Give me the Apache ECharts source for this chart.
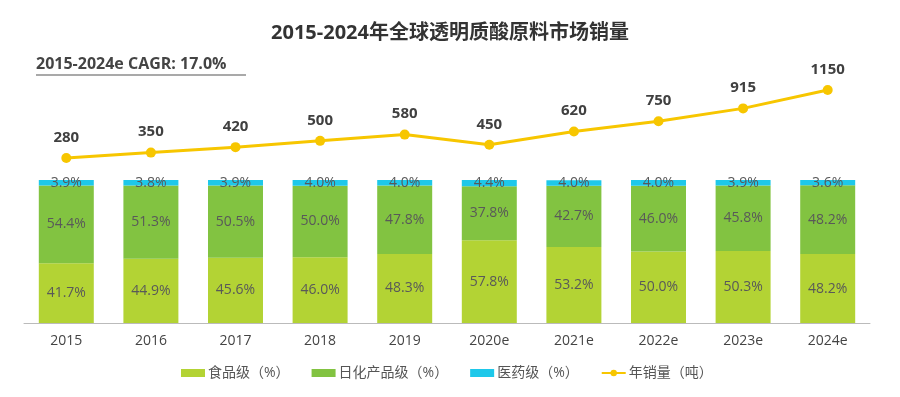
<!DOCTYPE html>
<html><head><meta charset="utf-8">
<script src="https://cdn.jsdelivr.net/npm/echarts@6/dist/echarts.min.js"></script>
<style>html,body{margin:0;padding:0;background:#fff}#c{width:900px;height:397px}</style>
</head><body><div id="c"></div>
<script>
var categories = ['2015','2016','2017','2018','2019','2020e','2021e','2022e','2023e','2024e'];
var foodGrade = [41.7,44.9,45.6,46.0,48.3,57.8,53.2,50.0,50.3,48.2];
var cosmeticGrade = [54.4,51.3,50.5,50.0,47.8,37.8,42.7,46.0,45.8,48.2];
var pharmaGrade = [3.9,3.8,3.9,4.0,4.0,4.4,4.0,4.0,3.9,3.6];
var salesVolume = [280,350,420,500,580,450,620,750,915,1150];

var FONT = "'Open Sans','Noto Sans CJK SC',sans-serif";
var chart = echarts.init(document.getElementById('c'));
function pct(v){return v.toFixed(1)+'%';}
var barLabel = {show:true, position:'inside', color:'#595959', fontSize:14, fontFamily:FONT,
  formatter:function(p){return pct(p.value);}};
chart.setOption({
  animation:false,
  textStyle:{fontFamily:FONT},
  title:{text:'2015-2024年全球透明质酸原料市场销量', left:'center', top:18,
    textStyle:{fontSize:20, fontWeight:'bold', color:'#333', fontFamily:FONT}},
  graphic:[
    {type:'text', left:36, top:56, style:{text:'2015-2024e CAGR: 17.0%', fontSize:16, fontWeight:'bold', fill:'#444', fontFamily:FONT}},
    {type:'line', shape:{x1:36,y1:75,x2:246,y2:75}, style:{stroke:'#555', lineWidth:1.2}}
  ],
  legend:{bottom:12, left:176, itemWidth:24, itemHeight:8, itemGap:22,
    textStyle:{color:'#555', fontSize:14, fontFamily:FONT, padding:[0,0,0,-2]},
    data:[{name:'食品级（%）',icon:'rect'},{name:'日化产品级（%）',icon:'rect'},{name:'医药级（%）',icon:'rect'},{name:'年销量（吨）'}]},
  grid:[
    {left:24, right:30, top:180, bottom:74},
    {left:24, right:30, top:90, bottom:217}
  ],
  xAxis:[
    {type:'category', gridIndex:0, data:categories,
      axisLine:{lineStyle:{color:'#bbb'}}, axisTick:{show:false},
      axisLabel:{color:'#444', fontSize:14, margin:11, fontFamily:FONT}},
    {type:'category', gridIndex:1, data:categories, show:false}
  ],
  yAxis:[
    {type:'value', gridIndex:0, min:0, max:100, show:false},
    {type:'value', gridIndex:1, min:0, max:1150, show:false}
  ],
  series:[
    {name:'食品级（%）', type:'bar', stack:'s', barWidth:'65%', data:foodGrade,
      itemStyle:{color:'#b3d334'}, label:barLabel},
    {name:'日化产品级（%）', type:'bar', stack:'s', data:cosmeticGrade,
      itemStyle:{color:'#82c341'}, label:barLabel},
    {name:'医药级（%）', type:'bar', stack:'s', data:pharmaGrade,
      itemStyle:{color:'#1ec8ea'}, label:barLabel},
    {name:'年销量（吨）', type:'line', xAxisIndex:1, yAxisIndex:1, data:salesVolume,
      symbol:'circle', symbolSize:10, lineStyle:{color:'#f7c600', width:3},
      itemStyle:{color:'#f7c600'},
      label:{show:true, position:'top', distance:8, color:'#404040', fontSize:15, fontWeight:'bold', fontFamily:FONT}}
  ]
});
</script></body></html>
